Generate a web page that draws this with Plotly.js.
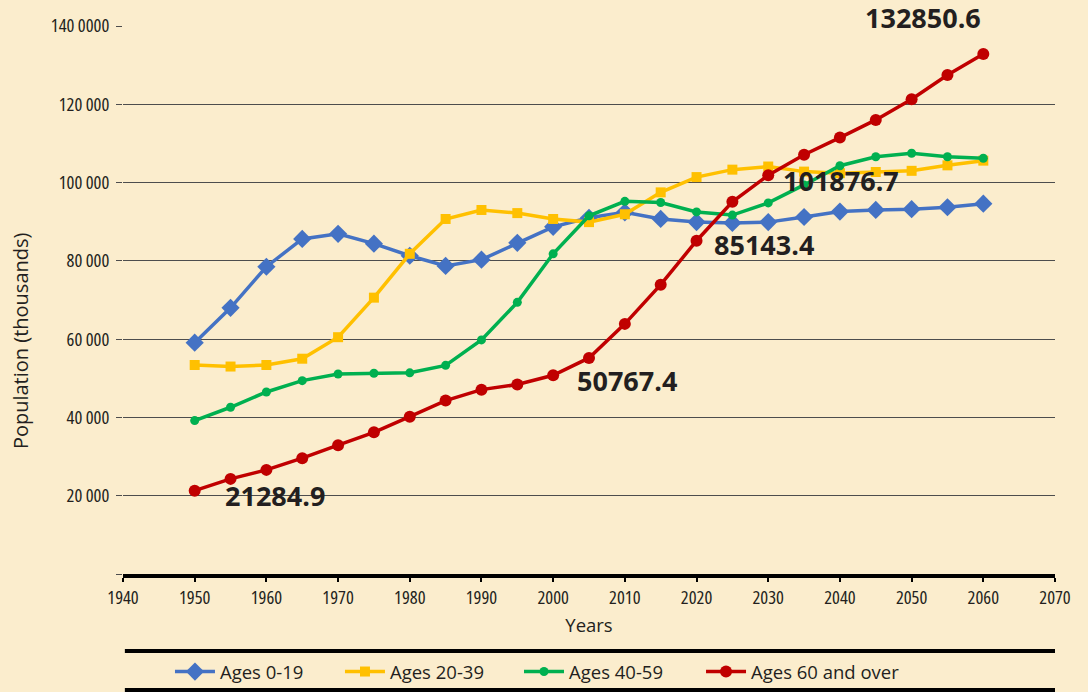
<!DOCTYPE html>
<html>
<head>
<meta charset="utf-8">
<script src="https://cdn.plot.ly/plotly-3.0.1.min.js"></script>
<style>
html,body{margin:0;padding:0;background:#FBEDCD;}
#chart{width:1088px;height:692px;}
#chart .xtick text, #chart .ytick text{font-stretch:condensed;}
</style>
</head>
<body>
<div id="chart"></div>
<script>
// ---- data ----
const years = [1950,1955,1960,1965,1970,1975,1980,1985,1990,1995,2000,2005,2010,2015,2020,2025,2030,2035,2040,2045,2050,2055,2060];
const ages0_19 = [59100,68000,78500,85600,86900,84400,81300,78700,80300,84600,88700,91000,92400,90700,89900,89700,89900,91200,92600,93000,93200,93700,94600];
const ages20_39 = [53400,53000,53400,55000,60500,70600,81800,90700,93000,92200,90700,89900,91900,97500,101400,103300,104100,102800,102400,102700,103000,104400,105600];
const ages40_59 = [39200,42600,46500,49400,51100,51300,51400,53300,59800,69400,81800,91500,95200,94900,92500,91700,94800,99400,104300,106600,107500,106600,106200];
const ages60plus = [21284.9,24300,26600,29600,32900,36200,40200,44300,47100,48400,50767.4,55200,63900,73900,85143.4,95100,101876.7,107100,111500,116000,121300,127500,132850.6];
const seriesNames = ['Ages 0-19','Ages 20-39','Ages 40-59','Ages 60 and over'];
const labelYears = [1950,2000,2020,2030,2060];
const yTickVals = [0,20000,40000,60000,80000,100000,120000,140000];
const yTickText = ['','20 000','40 000','60 000','80 000','100 000','120 000','140 0000'];
const xTickVals = [1940,1950,1960,1970,1980,1990,2000,2010,2020,2030,2040,2050,2060,2070];
const xTitle = 'Years';
const yTitle = 'Population (thousands)';

// ---- styles ----
const BG = '#FBEDCD';
const INK = '#231F20';
const SANS = '"Open Sans","Noto Sans",sans-serif';
const tickFont = {family:'"Open Sans","Roboto Condensed",sans-serif', size:18.5, color:INK};
const styles = [
  {color:'#4472C4', symbol:'diamond', size:14},
  {color:'#FFC000', symbol:'square', size:10},
  {color:'#00B050', symbol:'circle', size:9},
  {color:'#C00000', symbol:'circle', size:12}
];
const legendIds = ['legend','legend2','legend3','legend4'];
const legendX = [0.0504, 0.2328, 0.4249, 0.6202];
const allSeries = [ages0_19, ages20_39, ages40_59, ages60plus];

const traces = allSeries.map((vals,i)=>({
  type:'scatter', mode:'lines+markers', name:seriesNames[i],
  x:years, y:vals, legend:legendIds[i],
  line:{color:styles[i].color, width:3.5},
  marker:{color:styles[i].color, symbol:styles[i].symbol, size:styles[i].size}
}));

const labelShift = {1950:[80,-5], 2000:[74,-5], 2020:[67,-4], 2030:[73,-5], 2060:[-60,36]};
const annotations = labelYears.map(yr=>{
  const v = ages60plus[years.indexOf(yr)];
  return {
    x:yr, y:v, xref:'x', yref:'y', text:String(v), showarrow:false,
    xanchor:'center', yanchor:'middle',
    xshift:labelShift[yr][0], yshift:labelShift[yr][1],
    font:{family:SANS, size:27, color:INK, weight:700}
  };
});
annotations.push({
  text:yTitle, xref:'paper', yref:'paper', x:-0.1105, y:0.425, textangle:-90,
  showarrow:false, xanchor:'center', yanchor:'middle',
  font:{family:SANS, size:20, color:INK}
});

const shapes = [
  {type:'line', xref:'paper', yref:'paper', x0:0.002, x1:1, y0:-0.1405, y1:-0.1405, line:{color:'#000', width:4}},
  {type:'line', xref:'paper', yref:'paper', x0:0.002, x1:1, y0:-0.2117, y1:-0.2117, line:{color:'#000', width:4}}
];

const layout = {
  width:1088, height:692,
  margin:{l:123, r:33, t:26, b:118},
  paper_bgcolor:BG, plot_bgcolor:BG,
  showlegend:true,
  xaxis:{
    range:[1940,2070], tickvals:xTickVals, ticktext:xTickVals.map(String),
    showgrid:false, zeroline:false,
    showline:true, linecolor:'#000', linewidth:4,
    ticks:'outside', ticklen:4, tickwidth:2, tickcolor:'#000',
    tickfont:tickFont,
    title:{text:xTitle, font:{family:SANS, size:18.5, color:INK}, standoff:12}
  },
  yaxis:{
    range:[0,140000], tickvals:yTickVals, ticktext:yTickText,
    showgrid:true, gridcolor:'#4d4d4d', gridwidth:1, zeroline:false, showline:false,
    ticks:'outside', ticklen:6, tickwidth:1, tickcolor:'#4d4d4d',
    ticklabelstandoff:3,
    tickfont:tickFont
  },
  annotations:annotations,
  shapes:shapes
};
legendIds.forEach((id,i)=>{
  layout[id] = {orientation:'h', xref:'paper', x:legendX[i], xanchor:'left',
    yref:'container', y:0.0289, yanchor:'middle', itemwidth:40,
    bgcolor:'rgba(0,0,0,0)', font:{family:SANS, size:18.5, color:INK}};
});

Plotly.newPlot('chart', traces, layout, {displayModeBar:false, staticPlot:true});
</script>
</body>
</html>
